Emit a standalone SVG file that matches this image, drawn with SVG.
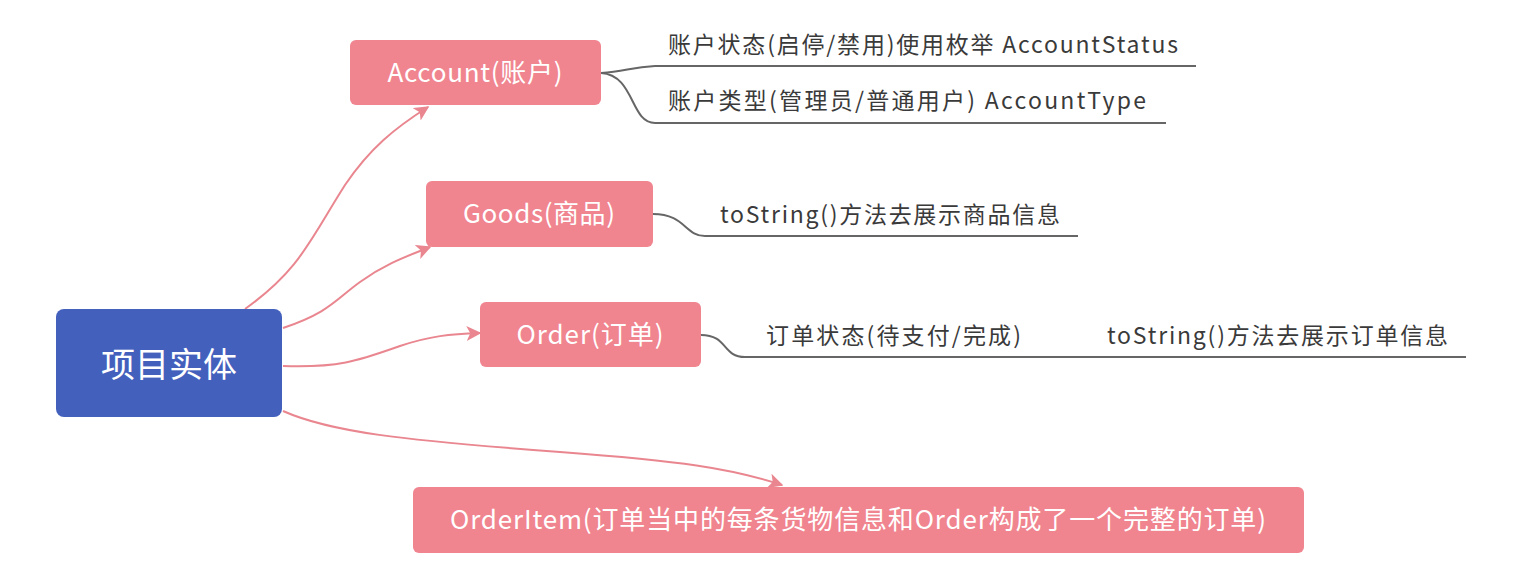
<svg xmlns="http://www.w3.org/2000/svg" width="1521" height="574" viewBox="0 0 1521 574">
<style>
.n{fill:#F0848F}
.r{fill:#4360BD}
.t{fill:#fff;font-family:"Noto Sans CJK SC","Noto Sans",sans-serif;font-size:26px;text-anchor:middle}
.rt{fill:#fff;font-family:"Noto Sans CJK SC","Noto Sans",sans-serif;font-size:34px;text-anchor:middle}
.s{fill:#3a3a3a;font-family:"Noto Sans CJK SC","Noto Sans",sans-serif;font-size:23px}
.c{fill:none;stroke:#E9868F;stroke-width:2}
.g{fill:none;stroke:#666;stroke-width:2}
</style>
<defs>
<marker id="a" viewBox="0 0 10 10" refX="9" refY="5" markerWidth="15" markerHeight="15" markerUnits="userSpaceOnUse" orient="auto"><path d="M0,0L10,5L0,10L2.5,5Z" fill="#E9868F"/></marker>
</defs>
<rect width="1521" height="574" fill="#fff"/>
<g id="connectors">
<path class="c" marker-end="url(#a)" d="M245,309C300,270 310,240 345,185C370,148 395,128 428,107"/>
<path class="c" marker-end="url(#a)" d="M283,328C330,312 335,300 360,282C385,264 405,257 430,247"/>
<path class="c" marker-end="url(#a)" d="M283,366C340,368 360,360 400,346C430,336 450,334 480,333"/>
<path class="c" marker-end="url(#a)" d="M283,411C330,432 400,440 560,452C680,461 730,468 782,485"/>
<path class="g" d="M601,73C625,72 630,67 655,66L1196,66"/>
<path class="g" d="M601,73C635,75 630,123 655,123L1166,123"/>
<path class="g" d="M653,214C685,214 685,236 705,236L1078,236"/>
<path class="g" d="M701,335C728,335 722,357 745,357L1466,357"/>
</g>
<g id="root"><rect class="r" x="56" y="309" width="226" height="108" rx="8"/><text class="rt" x="169" y="377">项目实体</text></g>
<g id="account"><rect class="n" x="350" y="40" width="251" height="65" rx="6"/><text class="t" x="475" y="82" textLength="175">Account(账户)</text></g>
<g id="goods"><rect class="n" x="426" y="181" width="227" height="66" rx="6"/><text class="t" x="539" y="223" textLength="152">Goods(商品)</text></g>
<g id="order"><rect class="n" x="480" y="302" width="221" height="65" rx="6"/><text class="t" x="590" y="344" textLength="147">Order(订单)</text></g>
<g id="orderitem"><rect class="n" x="413" y="487" width="891" height="66" rx="6"/><text class="t" x="858" y="529" textLength="816">OrderItem(订单当中的每条货物信息和Order构成了一个完整的订单)</text></g>
<g id="acc-status"><text class="s" x="668" y="53" textLength="510">账户状态(启停/禁用)使用枚举 AccountStatus</text></g>
<g id="acc-type"><text class="s" x="668" y="109" textLength="478">账户类型(管理员/普通用户)  AccountType</text></g>
<g id="goods-str"><text class="s" x="720" y="223" textLength="340">toString()方法去展示商品信息</text></g>
<g id="order-status"><text class="s" x="766" y="344" textLength="255">订单状态(待支付/完成)</text></g>
<g id="order-str"><text class="s" x="1107" y="344" textLength="341">toString()方法去展示订单信息</text></g>
</svg>
